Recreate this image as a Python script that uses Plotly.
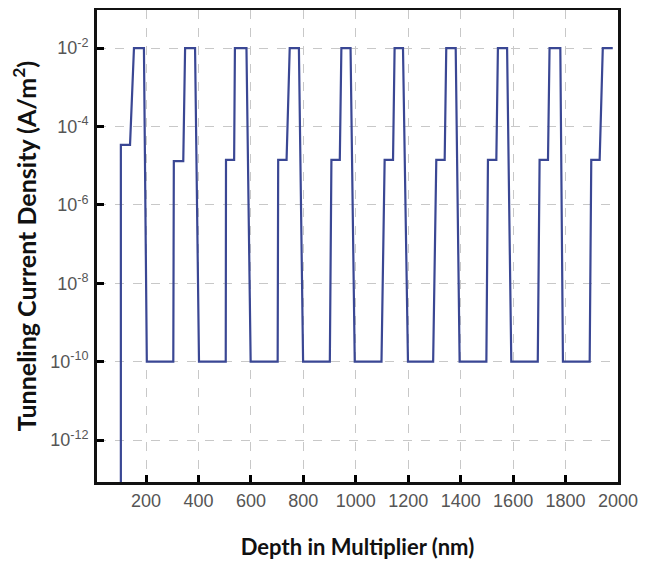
import plotly.graph_objects as go

# ---- data (depth in nm, current density in A/m^2) ----
step_start = [104, 306, 505, 704, 907, 1110, 1307, 1504, 1701, 1898]
step_end = [139, 342, 536, 736, 939, 1142, 1339, 1536, 1733, 1930]
step_level = [3.4e-5, 1.3e-5, 1.4e-5, 1.4e-5, 1.4e-5, 1.4e-5, 1.4e-5, 1.4e-5, 1.4e-5, 1.4e-5]
peak_start = [154, 349, 539, 748, 945, 1148, 1345, 1542, 1739, 1942]
peak_end = [192, 387, 583, 783, 980, 1180, 1381, 1577, 1780, 1980]
valley_start = [203, 402, 599, 799, 996, 1199, 1396, 1593, 1790]
valley_end = [304, 504, 702, 901, 1098, 1295, 1498, 1694, 1892]
peak_level = 1e-2
valley_level = 1e-10
start_level = 1e-14

x_ticks = [200, 400, 600, 800, 1000, 1200, 1400, 1600, 1800, 2000]
y_ticks = [1e-12, 1e-10, 1e-8, 1e-6, 1e-4, 1e-2]
y_ticktext = ["10<sup>-12</sup>", "10<sup>-10</sup>", "10<sup>-8</sup>",
              "10<sup>-6</sup>", "10<sup>-4</sup>", "10<sup>-2</sup>"]

# ---- assemble the trace ----
xs, ys = [step_start[0]], [start_level]
for i in range(len(step_start)):
    if i > 0:
        xs += [valley_end[i - 1]]
        ys += [valley_level]
    xs += [step_start[i], step_end[i], peak_start[i], peak_end[i]]
    ys += [step_level[i], step_level[i], peak_level, peak_level]
    if i < len(valley_start):
        xs += [valley_start[i]]
        ys += [valley_level]

fig = go.Figure()
fig.add_trace(go.Scatter(x=xs, y=ys, mode="lines",
                         line=dict(color="#3a4794", width=2.2),
                         showlegend=False))

tick_font = dict(family="Liberation Sans Narrow, Arial Narrow, Liberation Sans, Arial",
                 size=18, color="#555555")
xtitle_font = dict(family="Lato, Open Sans, sans-serif", size=22, color="#111111")
ytitle_font = dict(family="Lato, Open Sans, sans-serif", size=25, color="#111111")

# the page body adds an 8px margin, so the figure is 8px smaller than the window
fig.update_layout(
    width=639, height=553,
    margin=dict(l=89, r=29, t=2, b=79),
    paper_bgcolor="white", plot_bgcolor="white",
    xaxis=dict(
        range=[13, 2000], tickvals=x_ticks, ticktext=[str(v) for v in x_ticks],
        ticks="inside", ticklen=7, tickwidth=3, tickcolor="black",
        showline=True, linewidth=3, linecolor="#111111", mirror=True,
        showgrid=True, gridcolor="#c8c8c8", griddash="dash", gridwidth=1,
        zeroline=False, tickfont=tick_font, ticklabelstandoff=0,
        automargin=False,
        title=dict(text="<b>Depth in Multiplier (nm)</b>", font=xtitle_font, standoff=31),
    ),
    yaxis=dict(
        type="log", range=[-13.07, -1.03],
        tickvals=y_ticks, ticktext=y_ticktext,
        ticks="inside", ticklen=7, tickwidth=3, tickcolor="black",
        showline=True, linewidth=3, linecolor="#111111", mirror=True,
        showgrid=True, gridcolor="#c8c8c8", griddash="dash", gridwidth=1,
        zeroline=False, tickfont=tick_font, ticklabelstandoff=2,
        automargin=False,
        title=dict(text="<b>Tunneling Current Density (A/m<sup>2</sup>)</b>",
                   font=ytitle_font, standoff=13),
    ),
)

fig.write_html("out.html")
